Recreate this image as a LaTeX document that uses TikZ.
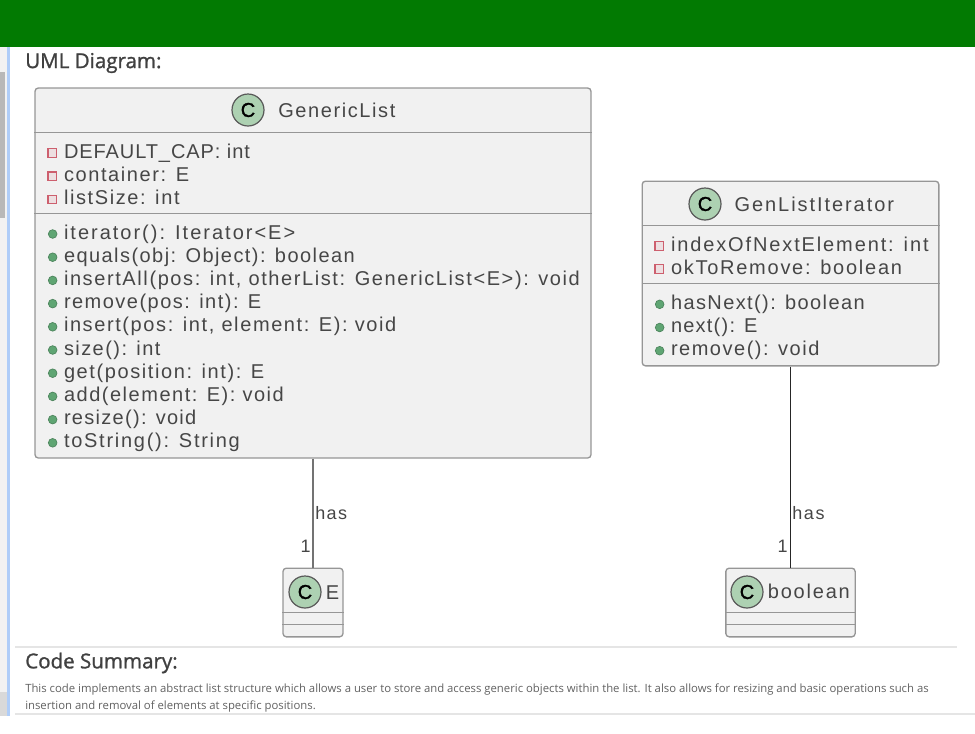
\documentclass[tikz,border=0pt]{standalone}
\usepackage{fontspec}
\setmainfont{Open Sans}
\newfontfamily\umlfont[LetterSpace=8]{Liberation Sans}
\newfontfamily\letrafont[FakeBold=1.5]{Liberation Sans}
\newfontfamily\cabfont[FakeBold=1.2]{Open Sans}
\newcommand{\esp}[1]{\addfontfeature{LetterSpace=#1}}
\usetikzlibrary{positioning,calc}
\definecolor{barraVerde}{RGB}{2,122,2}
\definecolor{fundoClasse}{RGB}{241,241,241}
\definecolor{bordaClasse}{RGB}{150,150,150}
\definecolor{textoUML}{RGB}{70,70,70}
\definecolor{circuloC}{RGB}{173,209,178}
\definecolor{marcaPriv}{RGB}{205,95,110}
\definecolor{marcaPub}{RGB}{95,165,115}
\definecolor{faixaAzul}{RGB}{175,205,248}
\tikzset{
  classe/.style={rectangle, draw=bordaClasse, line width=1pt, fill=fundoClasse,
                 rounded corners=2.5pt, inner sep=0pt},
  divisa/.style={draw=bordaClasse, line width=1.2pt},
  circulo/.style={circle, draw=black!65, line width=0.9pt, fill=circuloC,
                  minimum size=24pt, inner sep=0pt, font=\letrafont\fontsize{15}{15}\selectfont, text=black},
  titulo/.style={anchor=west, inner sep=0pt, text=textoUML, font=\umlfont\fontsize{15}{15}\selectfont},
  linha/.style={anchor=north west, inner sep=0pt, outer sep=0pt, minimum height=17.4pt, text height=10.5pt,
                text depth=3pt, text=textoUML, font=\umlfont\fontsize{15}{15}\selectfont},
  marcapriv/.style={rectangle, draw=marcaPriv, fill=fundoClasse!88!marcaPriv, line width=0.9pt,
                    minimum size=6.5pt, inner sep=0pt},
  marcapub/.style={circle, draw=marcaPub!80!black, fill=marcaPub, line width=0.5pt,
                   minimum size=6.5pt, inner sep=0pt},
  priv/.style={linha, label={[marcapriv, label distance=5pt]left:{}}},
  pub/.style={linha, label={[marcapub, label distance=5pt]left:{}}},
  assoc/.style={line width=1.2pt},
  rotulo/.style={inner sep=0pt, text=textoUML, font=\umlfont\fontsize{13.5}{13.5}\selectfont},
  cabecalho/.style={anchor=west, inner sep=0pt, text=black!75, font=\cabfont\fontsize{15.4}{15.4}\selectfont},
  resumo/.style={anchor=west, inner sep=0pt, text=black!62, font=\fontsize{8.5}{8.5}\selectfont},
  fio/.style={draw=black!10, line width=0.8pt},
}

\begin{document}
\begin{tikzpicture}[x=0.75pt, y=-0.75pt]
  \useasboundingbox (0,0) rectangle (975,733);
  % page around the diagram
  \fill[black!5] (0,47) rectangle (7,716);
  \fill[black!28] (0,72) rectangle (5,218);
  \fill[black!15] (0,692) rectangle (7,716);
  \fill[faixaAzul] (7,47) rectangle (10,716);
  \fill[barraVerde] (0,0) rectangle (975,47);
  \node[cabecalho] (uml) at (25,63) {UML Diagram:};

  % GenericList
  \node[classe, minimum width=417pt, minimum height=277.5pt] (gl) at (313,273) {};
  \draw[divisa] ($(gl.north west)+(0,45)$) -- ($(gl.north east)+(0,45)$);
  \draw[divisa] ($(gl.north west)+(0,126)$) -- ($(gl.north east)+(0,126)$);
  \node[circulo] (glc) at (248,110) {C};
  \node[titulo, right=22.5pt of glc.center, anchor=west] (glt) {GenericList};
  \node[priv] (a1) at (64,141.5) {\esp{4.6}DEFAULT\_CAP: int};
  \node[priv, below=0pt of a1.south west, anchor=north west] (a2) {container: E};
  \node[priv, below=0pt of a2.south west, anchor=north west] (a3) {listSize: int};
  \node[pub] (m1) at (64,222.4) {\esp{10}iterator(): Iterator<E>};
  \node[pub, below=0pt of m1.south west, anchor=north west] (m2) {\esp{7.2}equals(obj: Object): boolean};
  \node[pub, below=0pt of m2.south west, anchor=north west] (m3) {insertAll(pos: int, otherList: GenericList<E>): void};
  \node[pub, below=0pt of m3.south west, anchor=north west] (m4) {\esp{7.4}remove(pos: int): E};
  \node[pub, below=0pt of m4.south west, anchor=north west] (m5) {insert(pos: int, element: E): void};
  \node[pub, below=0pt of m5.south west, anchor=north west] (m6) {\esp{7.2}size(): int};
  \node[pub, below=0pt of m6.south west, anchor=north west] (m7) {get(position: int): E};
  \node[pub, below=0pt of m7.south west, anchor=north west] (m8) {\esp{7.6}add(element: E): void};
  \node[pub, below=0pt of m8.south west, anchor=north west] (m9) {\esp{6.5}resize(): void};
  \node[pub, below=0pt of m9.south west, anchor=north west] (m10) {\esp{8.7}toString(): String};

  % GenListIterator
  \node[classe, minimum width=222.5pt, minimum height=138.5pt] (it) at (790.5,273.5) {};
  \draw[divisa] ($(it.north west)+(0,45)$) -- ($(it.north east)+(0,45)$);
  \draw[divisa] ($(it.north west)+(0,103)$) -- ($(it.north east)+(0,103)$);
  \node[circulo] (itc) at (705,204) {C};
  \node[titulo, right=22pt of itc.center, anchor=west] (itt) {\esp{9.7}GenListIterator};
  \node[priv] (b1) at (671,234.4) {\esp{9.4}indexOfNextElement: int};
  \node[priv, below=0pt of b1.south west, anchor=north west] (b2) {\esp{8.7}okToRemove: boolean};
  \node[pub] (n1) at (671,292.7) {\esp{7}hasNext(): boolean};
  \node[pub, below=0pt of n1.south west, anchor=north west] (n2) {\esp{6.2}next(): E};
  \node[pub, below=0pt of n2.south west, anchor=north west] (n3) {\esp{7.6}remove(): void};

  % E
  \node[classe, minimum width=45pt, minimum height=51.5pt] (e) at (313,602.5) {};
  \draw[divisa] ($(e.north west)+(0,45)$) -- ($(e.north east)+(0,45)$);
  \draw[divisa] ($(e.north west)+(0,57)$) -- ($(e.north east)+(0,57)$);
  \node[circulo] (ec) at (305,592) {C};
  \node[titulo, right=3pt of ec.east, yshift=-0.5pt] (et) {E};

  % boolean
  \node[classe, minimum width=97pt, minimum height=51.5pt] (bo) at (790.5,602.5) {};
  \draw[divisa] ($(bo.north west)+(0,45)$) -- ($(bo.north east)+(0,45)$);
  \draw[divisa] ($(bo.north west)+(0,57)$) -- ($(bo.north east)+(0,57)$);
  \node[circulo] (boc) at (747,592) {C};
  \node[titulo, right=3pt of boc.east, yshift=0.5pt] (bot) {\esp{9}boolean};

  \draw[assoc, draw=black!55] (gl.south) -- (e.north);
  \draw[assoc, draw=black!85] (it.south) -- (bo.north);
  \node[rotulo, anchor=west] (has1) at (315,513) {has};
  \node[rotulo, anchor=east] (um1) at (311,546) {1};
  \node[rotulo, anchor=west] (has2) at (792,513) {\esp{9}has};
  \node[rotulo, anchor=east] (um2) at (788,546) {1};

  % summary
  \draw[fio] (15,647) -- (957,647);
  \node[cabecalho] (cs) at (25,663) {Code Summary:};
  \node[resumo] (r1) at (25,690) {This code implements an abstract list structure which allows a user to store and access generic objects within the list. It also allows for resizing and basic operations such as};
  \node[resumo] (r2) at (25,707) {insertion and removal of elements at specific positions.};
  \draw[fio] (15,714) -- (975,714);
\end{tikzpicture}
\end{document}
